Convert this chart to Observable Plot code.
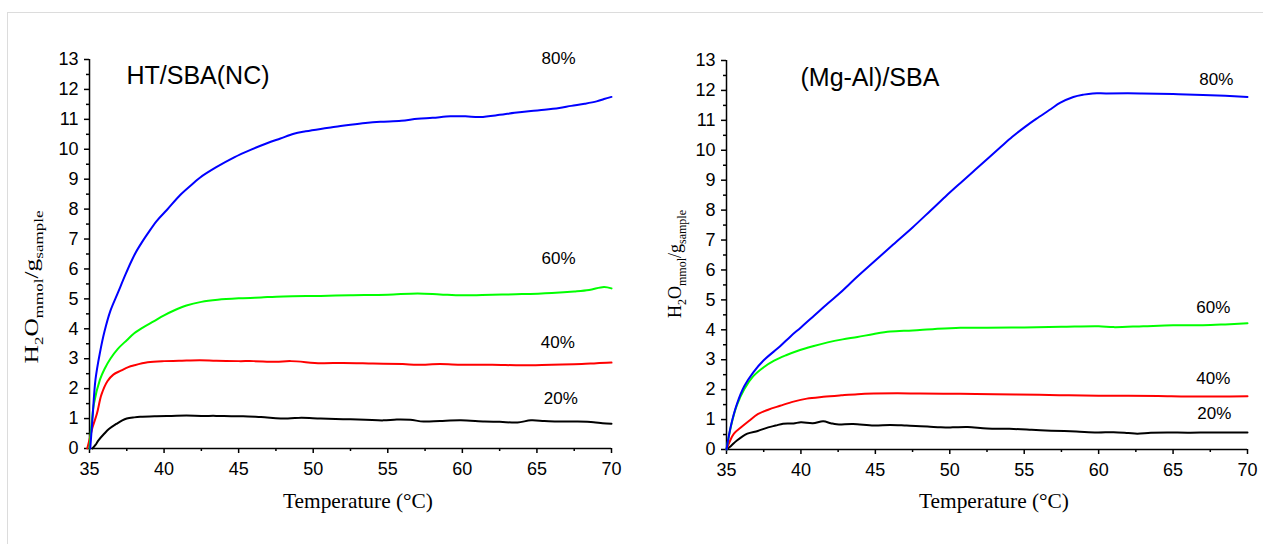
<!DOCTYPE html>
<html>
<head>
<meta charset="utf-8">
<script src="https://cdn.jsdelivr.net/npm/d3@7"></script>
<script src="https://cdn.jsdelivr.net/npm/@observablehq/plot@0.6"></script>
<style>
  html, body { margin: 0; padding: 0; background: #fff; width: 1263px; height: 544px; overflow: hidden; }
  #frame { position: absolute; left: 7px; top: 12px; right: 0; bottom: 0; border-top: 1px solid #dcdcdc; border-left: 1px solid #dcdcdc; }
  #left { position: absolute; left: 0; top: 0; }
  #right { position: absolute; left: 632px; top: 0; }
</style>
</head>
<body>
<div id="frame"></div>
<div id="left"></div>
<div id="right"></div>
<script>
// ---------- data: [temperature °C, H2O mmol/g sample] ----------
const ht80 = [[35.05,0],[35.2,1.0],[35.4,2.3],[35.7,3.2],[36.0,3.9],[36.4,4.6],[36.9,5.2],[37.4,5.8],[37.8,6.25],[38.1,6.55],[38.5,6.88],[38.9,7.18],[39.5,7.6],[40.2,7.98],[41.1,8.48],[42.0,8.88],[42.4,9.05],[43.5,9.4],[44.7,9.73],[45.8,9.98],[46.9,10.2],[47.8,10.36],[48.7,10.52],[49.5,10.6],[50.5,10.68],[51.5,10.75],[52.5,10.82],[53.5,10.88],[54.5,10.92],[55.9,10.95],[57.0,11.02],[58.0,11.05],[59.2,11.1],[60.2,11.1],[61.2,11.08],[62.5,11.15],[63.5,11.22],[64.6,11.28],[65.5,11.32],[66.5,11.38],[67.3,11.45],[68.2,11.52],[69.0,11.6],[69.5,11.68],[70.0,11.75]];
const ht60 = [[35.0,0],[35.1,0.6],[35.3,1.5],[35.7,2.3],[36.0,2.65],[36.4,3.0],[36.9,3.33],[37.5,3.62],[38.0,3.85],[38.6,4.05],[39.3,4.25],[40.0,4.45],[40.7,4.62],[41.5,4.78],[42.5,4.9],[43.6,4.97],[45.1,5.02],[46.5,5.05],[48.0,5.08],[50.5,5.1],[52.5,5.12],[55.0,5.14],[57.0,5.18],[58.5,5.15],[60.0,5.12],[62.0,5.14],[64.0,5.16],[66.0,5.2],[67.5,5.25],[68.5,5.3],[69.5,5.4],[70.0,5.35]];
const ht40 = [[34.85,0],[35.0,0.3],[35.2,0.7],[35.5,1.17],[35.8,1.8],[36.2,2.25],[36.6,2.47],[37.1,2.6],[37.6,2.72],[38.0,2.78],[38.9,2.88],[40.0,2.92],[41.0,2.93],[42.4,2.95],[43.5,2.93],[45.0,2.92],[46.0,2.92],[47.5,2.9],[48.5,2.92],[50.5,2.85],[52.0,2.86],[54.0,2.84],[56.0,2.82],[57.0,2.8],[58.5,2.82],[60.0,2.8],[62.0,2.8],[64.0,2.78],[66.0,2.8],[68.0,2.82],[69.0,2.85],[70.0,2.87]];
const ht20 = [[35.2,0],[35.4,0.12],[35.6,0.27],[36.0,0.5],[36.3,0.65],[36.8,0.82],[37.2,0.94],[37.5,1.0],[38.0,1.04],[38.4,1.06],[39.5,1.08],[40.5,1.09],[41.5,1.1],[42.5,1.09],[43.5,1.09],[44.5,1.08],[45.3,1.08],[46.5,1.05],[48.3,1.0],[49.2,1.03],[50.5,1.0],[52.0,0.98],[53.5,0.96],[54.7,0.94],[55.6,0.97],[56.5,0.96],[57.4,0.9],[58.5,0.92],[59.9,0.94],[61.5,0.9],[62.5,0.89],[63.7,0.87],[64.6,0.94],[65.5,0.92],[66.5,0.9],[67.7,0.9],[68.8,0.88],[69.4,0.84],[70.0,0.83]];

const mg80 = [[35.0,0],[35.3,0.8],[35.7,1.52],[36.2,2.12],[36.8,2.58],[37.5,2.98],[38.6,3.45],[39.3,3.78],[40.0,4.08],[40.9,4.48],[41.8,4.88],[42.6,5.22],[43.3,5.55],[44.0,5.87],[45.3,6.45],[46.2,6.85],[47.5,7.42],[48.7,7.98],[49.7,8.45],[50.7,8.9],[51.6,9.3],[52.5,9.7],[53.4,10.1],[54.2,10.45],[55.1,10.8],[55.9,11.08],[56.8,11.38],[57.4,11.58],[58.3,11.78],[59.0,11.86],[59.6,11.9],[60.5,11.9],[62.8,11.9],[65.0,11.88],[67.0,11.85],[68.5,11.82],[70.0,11.78]];
const mg60 = [[35.0,0],[35.3,0.78],[35.7,1.48],[36.2,2.02],[36.8,2.45],[37.5,2.75],[38.2,2.97],[39.0,3.15],[39.8,3.3],[40.8,3.45],[41.8,3.58],[42.8,3.68],[43.8,3.76],[44.9,3.86],[46.0,3.94],[47.5,3.98],[49.0,4.03],[50.7,4.07],[52.5,4.07],[55.0,4.08],[57.5,4.1],[60.0,4.12],[61.0,4.09],[63.0,4.12],[65.0,4.15],[67.0,4.15],[68.5,4.18],[70.0,4.22]];
const mg40 = [[35.0,0],[35.2,0.25],[35.5,0.53],[36.0,0.75],[36.5,0.95],[37.1,1.18],[37.8,1.33],[38.6,1.46],[39.5,1.6],[40.4,1.7],[41.5,1.76],[42.7,1.81],[43.8,1.85],[44.9,1.87],[46.5,1.88],[48.0,1.87],[50.7,1.86],[53.0,1.85],[56.0,1.83],[58.0,1.81],[60.0,1.8],[62.0,1.8],[64.0,1.79],[66.0,1.77],[68.0,1.77],[70.0,1.78]];
const mg20 = [[35.0,0],[35.3,0.12],[35.7,0.3],[36.4,0.53],[37.1,0.62],[37.8,0.74],[38.3,0.8],[38.8,0.86],[39.5,0.87],[40.0,0.91],[40.8,0.88],[41.5,0.94],[42.0,0.88],[42.4,0.84],[43.5,0.85],[44.9,0.8],[46.0,0.82],[47.1,0.8],[48.5,0.77],[49.4,0.74],[50.2,0.74],[51.2,0.75],[52.5,0.7],[54.0,0.69],[55.5,0.66],[56.8,0.63],[58.5,0.6],[59.9,0.57],[61.0,0.58],[62.0,0.55],[62.6,0.53],[63.5,0.56],[64.6,0.57],[66.0,0.56],[67.5,0.57],[69.0,0.57],[70.0,0.57]];

const seriesNames = ["80%", "60%", "40%", "20%"];
const seriesColors = ["#0000ff", "#00ff00", "#ff0000", "#000000"];

const xTicks = [35, 40, 45, 50, 55, 60, 65, 70];
const xMinor = [37.5, 42.5, 47.5, 52.5, 57.5, 62.5, 67.5];
const yTicks = [0,1,2,3,4,5,6,7,8,9,10,11,12,13];
const yMinor = [0.5,1.5,2.5,3.5,4.5,5.5,6.5,7.5,8.5,9.5,10.5,11.5,12.5];

// label positions in data units
const htLabels = [{x:66.45,y:13.04,t:"80%"},{x:66.45,y:6.35,t:"60%"},{x:66.4,y:3.55,t:"40%"},{x:66.6,y:1.67,t:"20%"}];
const mgLabels = [{x:67.9,y:12.37,t:"80%"},{x:67.7,y:4.75,t:"60%"},{x:67.7,y:2.37,t:"40%"},{x:67.77,y:1.2,t:"20%"}];
const htTitle = [{x:37.48,y:12.45,t:"HT/SBA(NC)"}];
const mgTitle = [{x:39.97,y:12.4,t:"(Mg-Al)/SBA"}];

const xLabel = "Temperature (°C)";

function toRows(pairs, name) { return pairs.map(([t, v]) => ({t, v, s: name})); }

function panel(opts) {
  const {series, labels, title, width, ml, mr, mt, mb} = opts;
  const marks = [];
  marks.push(Plot.axisX({ticks: xTicks, tickSize: 5, tickPadding: 9, strokeWidth: 1.5, label: null, fontSize: 18}));
  marks.push(Plot.axisX({ticks: xMinor, tickSize: 3, tickFormat: () => "", strokeWidth: 1.5, label: null}));
  marks.push(Plot.axisY({ticks: yTicks, tickSize: 5, tickPadding: 6, strokeWidth: 1.5, label: null, fontSize: 18}));
  marks.push(Plot.axisY({ticks: yMinor, tickSize: 3, tickFormat: () => "", strokeWidth: 1.5, label: null}));
  marks.push(Plot.ruleX([35], {stroke: "#000", strokeWidth: 1.5}));
  marks.push(Plot.ruleY([0], {stroke: "#000", strokeWidth: 1.5}));
  series.slice().reverse().forEach((pairs, ri) => {
    const i = series.length - 1 - ri;
    marks.push(Plot.line(toRows(pairs, seriesNames[i]), {x: "t", y: "v", stroke: seriesColors[i], strokeWidth: 2, curve: "catmull-rom"}));
  });
  marks.push(Plot.text(labels, {x: "x", y: "y", text: "t", fontSize: 17, fill: "#000"}));
  marks.push(Plot.text(title, {x: "x", y: "y", text: "t", fontSize: 25, textAnchor: "start", fill: "#000"}));
  return Plot.plot({
    width, height: 544,
    marginLeft: ml, marginRight: mr, marginTop: mt, marginBottom: mb,
    x: {domain: [35, 70]},
    y: {domain: [0, 13]},
    style: {fontFamily: "'Liberation Sans', Arial, sans-serif", fontSize: "18px", background: "transparent", overflow: "visible", color: "#000"},
    marks
  });
}

function addTitles(svg, cxLabel, yLabelX, yLabelCy, yLabelLen) {
  const s = d3.select(svg);
  s.append("text")
    .attr("x", cxLabel).attr("y", 508)
    .attr("text-anchor", "middle")
    .attr("font-family", "'Liberation Serif', 'Times New Roman', serif")
    .attr("font-size", 21)
    .attr("fill", "#000")
    .attr("textLength", 150).attr("lengthAdjust", "spacingAndGlyphs")
    .text(xLabel);
  const t = s.append("text")
    .attr("transform", `translate(${yLabelX},${yLabelCy}) rotate(-90)`)
    .attr("text-anchor", "middle")
    .attr("font-family", "'Liberation Serif', 'Times New Roman', serif")
    .attr("font-size", 18)
    .attr("fill", "#000")
    .attr("textLength", yLabelLen).attr("lengthAdjust", "spacingAndGlyphs");
  t.append("tspan").text("H");
  t.append("tspan").attr("font-size", 12).attr("dy", 5).text("2");
  t.append("tspan").attr("dy", -5).text("O");
  t.append("tspan").attr("font-size", 12).attr("dy", 5).text("mmol");
  t.append("tspan").attr("dy", -5).text("/g");
  t.append("tspan").attr("font-size", 12).attr("dy", 5).text("sample");
}

const leftSvg = panel({series: [ht80, ht60, ht40, ht20], labels: htLabels, title: htTitle, width: 632, ml: 89, mr: 21, mt: 59, mb: 96});
document.getElementById("left").appendChild(leftSvg);
addTitles(leftSvg, 358, 38, 287, 153);

const rightSvg = panel({series: [mg80, mg60, mg40, mg20], labels: mgLabels, title: mgTitle, width: 631, ml: 94, mr: 16, mt: 60, mb: 95});
document.getElementById("right").appendChild(rightSvg);
addTitles(rightSvg, 994 - 632, 681 - 632, 264, 108);
</script>
</body>
</html>
